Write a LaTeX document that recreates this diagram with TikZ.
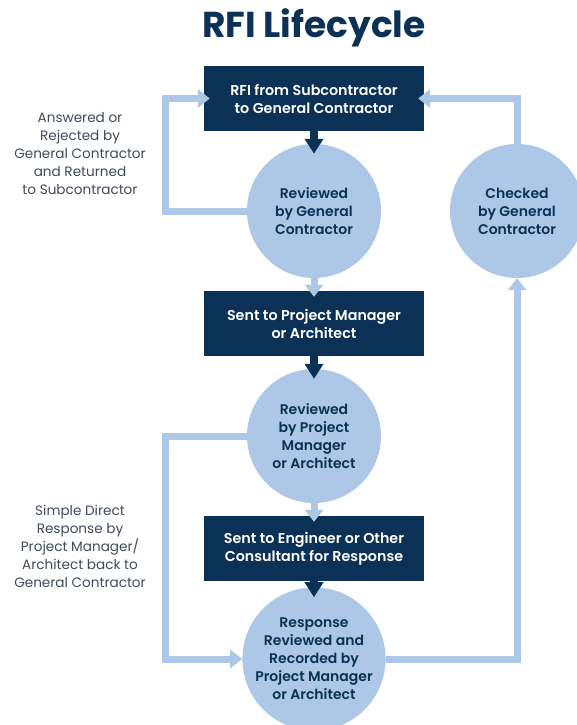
\documentclass[tikz,border=0pt]{standalone}
\usepackage{fontspec}
\setmainfont{Poppins}
\newfontfamily\semibold{Poppins SemiBold}
\usetikzlibrary{arrows.meta}
\definecolor{navy}{HTML}{0B3157}
\definecolor{pale}{HTML}{ADC8E6}
\definecolor{note}{HTML}{404A58}
\begin{document}
\begin{tikzpicture}[x=1pt,y=-1pt,
  stagebox/.style={rectangle, fill=navy, text=white, minimum width=220pt, minimum height=65pt,
    align=center, inner sep=0pt, font=\semibold\fontsize{14.3}{18}\selectfont},
  stagecircle/.style={circle, fill=pale, text=navy, minimum size=134pt, inner sep=0pt,
    align=center, font=\semibold\fontsize{14}{18}\selectfont},
  sidenote/.style={align=center, text=note, font=\fontsize{13.6}{18}\selectfont},
  darkarrow/.style={draw=navy, line width=7.5pt, shorten >=-10pt,
    -{Triangle[width=18pt,length=15pt]}},
  palearrow/.style={draw=pale, line width=7pt, -{Triangle[width=18pt,length=12pt]}},
  intobox/.style={shorten >=-6pt}]
\useasboundingbox (0,0) rectangle (577,725);

\node[font=\bfseries\fontsize{36}{42}\selectfont, text=navy] (title) at (314,28) {RFI Lifecycle};

% main column
\node[stagebox] (box1) at (314,98.5) {RFI from Subcontractor\\to General Contractor};
\node[stagecircle] (circ1) at (314,211) {Reviewed\\by General\\Contractor};
\node[stagebox] (box2) at (314,323.5) {Sent to Project Manager\\or Architect};
\node[stagecircle] (circ2) at (314,436) {Reviewed\\by Project\\Manager\\or Architect};
\node[stagebox] (box3) at (314,548.5) {Sent to Engineer or Other\\Consultant for Response};
\node[stagecircle] (circ3) at (314,659) {Response\\Reviewed and\\Recorded by\\Project Manager\\or Architect};

% right column
\node[stagecircle] (circ4) at (517,211) {Checked\\by General\\Contractor};

% side notes
\node[sidenote] (note1) at (80,154) {Answered or\\Rejected by\\General Contractor\\and Returned\\to Subcontractor};
\node[sidenote] (note2) at (80,546) {Simple Direct\\Response by\\Project Manager/\\Architect back to\\General Contractor};

% bends of the side loops
\coordinate (bendA) at (165,211);
\coordinate (bendB) at (165,436);

% downward flow
\draw[darkarrow] (box1.south) -- (circ1.north);
\draw[palearrow, intobox] (circ1.south) -- (box2.north);
\draw[darkarrow] (box2.south) -- (circ2.north);
\draw[palearrow, intobox] (circ2.south) -- (box3.north);
\draw[darkarrow] (box3.south) -- (circ3.north);

% return loops
\draw[palearrow, intobox] (circ1.west) -- (bendA) |- (box1.west);
\draw[palearrow] (circ2.west) -- (bendB) |- (circ3.west);
\draw[palearrow] (circ3.east) -| (circ4.south);
\draw[palearrow, intobox] (circ4.north) |- (box1.east);
\end{tikzpicture}
\end{document}
